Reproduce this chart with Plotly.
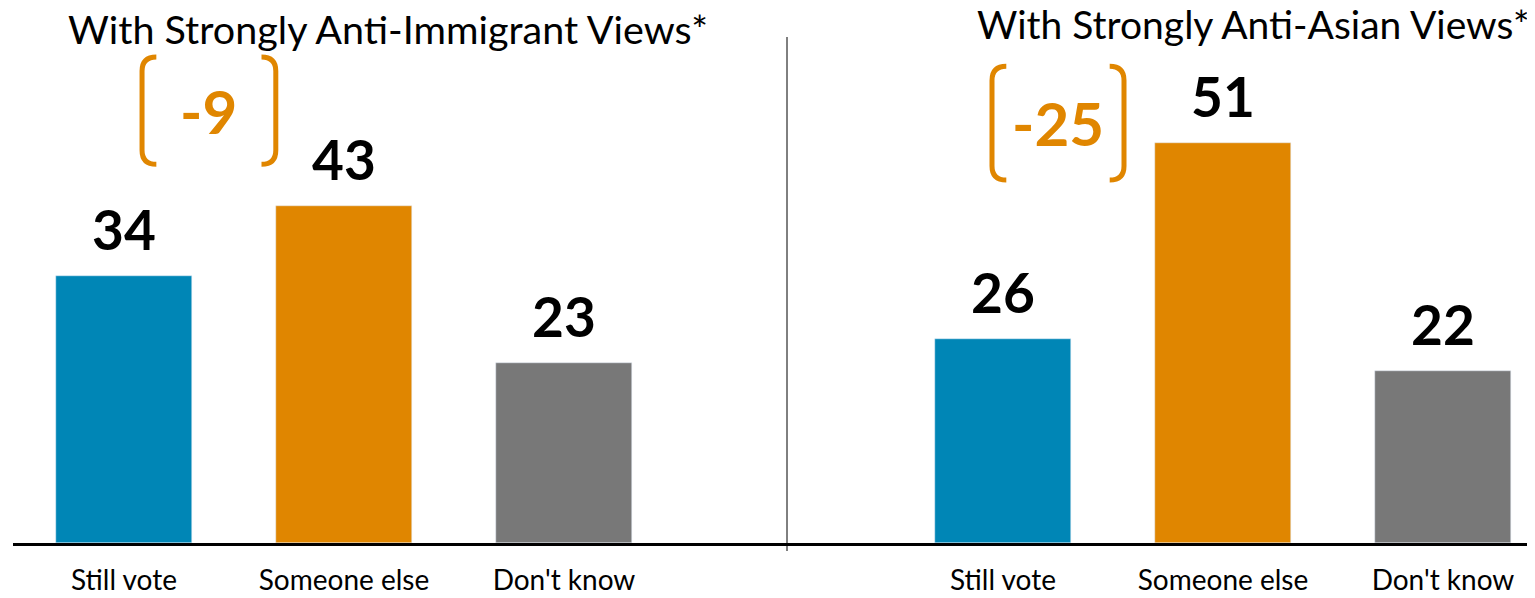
import plotly.graph_objects as go

categories = ["Still vote", "Someone else", "Don't know"]
immigrant_values = [34, 43, 23]
asian_values = [26, 51, 22]
panel_titles = ["With Strongly Anti-Immigrant Views*", "With Strongly Anti-Asian Views*"]
bar_colors = ["#0086B6", "#E08600", "#787878"]
ORANGE = "#E08600"
FONT = "Lato"

# page body has an 8px margin: work in window pixels, convert by subtracting OFF
OFF = 8
W, H = 1535 - OFF, 598 - OFF
BASE_PX = 543 - OFF
PX_PER_UNIT = 7.84
BAND = 220.0

xpos = [0, 1, 2]

fig = go.Figure()
fig.add_trace(go.Bar(x=xpos, y=immigrant_values, marker_color=bar_colors, width=0.62,
                     xaxis="x", yaxis="y", showlegend=False))
fig.add_trace(go.Bar(x=xpos, y=asian_values, marker_color=bar_colors, width=0.62,
                     xaxis="x2", yaxis="y", showlegend=False))

# axis geometry (window pixels -> figure pixels)
l1, r1 = 13 - OFF, 787 - OFF
l2, r2 = 787 - OFF, 1535 - OFF
c1, c2 = 124 - OFF, 1003 - OFF
rng1 = [-(c1 - l1) / BAND, -(c1 - l1) / BAND + (r1 - l1) / BAND]
rng2 = [-(c2 - l2) / BAND, -(c2 - l2) / BAND + (r2 - l2) / BAND]
ymax = BASE_PX / PX_PER_UNIT

axcommon = dict(tickmode="array", tickvals=xpos, ticktext=categories, showgrid=False,
                zeroline=False, showline=True, linecolor="black", linewidth=2.5,
                automargin=False,
                ticks="", tickfont=dict(family=FONT, size=28, color="black"), ticklabelstandoff=11)
fig.update_layout(
    width=W, height=H,
    margin=dict(l=0, r=0, t=0, b=H - BASE_PX, autoexpand=False),
    plot_bgcolor="white", paper_bgcolor="white",
    bargap=0,
    xaxis=dict(domain=[l1 / W, r1 / W], range=rng1, **axcommon),
    xaxis2=dict(domain=[l2 / W, r2 / W], range=rng2, anchor="y", **axcommon),
    yaxis=dict(range=[0, ymax], visible=False, automargin=False),
)

# value labels
for xr, vals in (("x", immigrant_values), ("x2", asian_values)):
    for xi, v in zip(xpos, vals):
        fig.add_annotation(x=xi, y=v, xref=xr, yref="y", text=f"<b>{v}</b>", showarrow=False,
                           yanchor="bottom", yshift=12,
                           font=dict(family=FONT, size=55, color="black"))

# titles
fig.add_annotation(x=(388 - OFF) / W, y=1, xref="paper", yref="paper", text=panel_titles[0],
                   showarrow=False, xanchor="center", yanchor="middle", yshift=-(28 - OFF),
                   font=dict(family=FONT, size=39.5, color="black"))
fig.add_annotation(x=(975 - OFF) / W, y=1, xref="paper", yref="paper", text=panel_titles[1],
                   showarrow=False, xanchor="left", yanchor="middle", yshift=-(24 - OFF),
                   font=dict(family=FONT, size=39, color="black"))

# divider
fig.add_shape(type="line", xref="paper", yref="paper", x0=(787 - OFF) / W, x1=(787 - OFF) / W,
              y0=(BASE_PX - (551 - OFF)) / BASE_PX, y1=(BASE_PX - (37 - OFF)) / BASE_PX,
              line=dict(color="black", width=1))

# difference brackets
def bracket(xr, xl_v, xr_v, y_top, y_bot, label):
    arm = 0.065
    r = 1.8
    pathL = (f"M {xl_v+arm},{y_top} Q {xl_v},{y_top} {xl_v},{y_top-r} "
             f"L {xl_v},{y_bot+r} Q {xl_v},{y_bot} {xl_v+arm},{y_bot}")
    pathR = (f"M {xr_v-arm},{y_top} Q {xr_v},{y_top} {xr_v},{y_top-r} "
             f"L {xr_v},{y_bot+r} Q {xr_v},{y_bot} {xr_v-arm},{y_bot}")
    for p in (pathL, pathR):
        fig.add_shape(type="path", path=p, xref=xr, yref="y",
                      line=dict(color=ORANGE, width=5))
    fig.add_annotation(x=(xl_v + xr_v) / 2, y=(y_top + y_bot) / 2, xref=xr, yref="y",
                       text=f"<b>{label}</b>", showarrow=False, yanchor="middle",
                       font=dict(family=FONT, size=60, color=ORANGE))

d1 = immigrant_values[0] - immigrant_values[1]
d2 = asian_values[0] - asian_values[1]
bracket("x", 0.082, 0.69, 62.0, 48.3, f"{d1}")
bracket("x2", -0.05, 0.55, 60.8, 46.3, f"{d2}")

fig.write_html("out.html")
